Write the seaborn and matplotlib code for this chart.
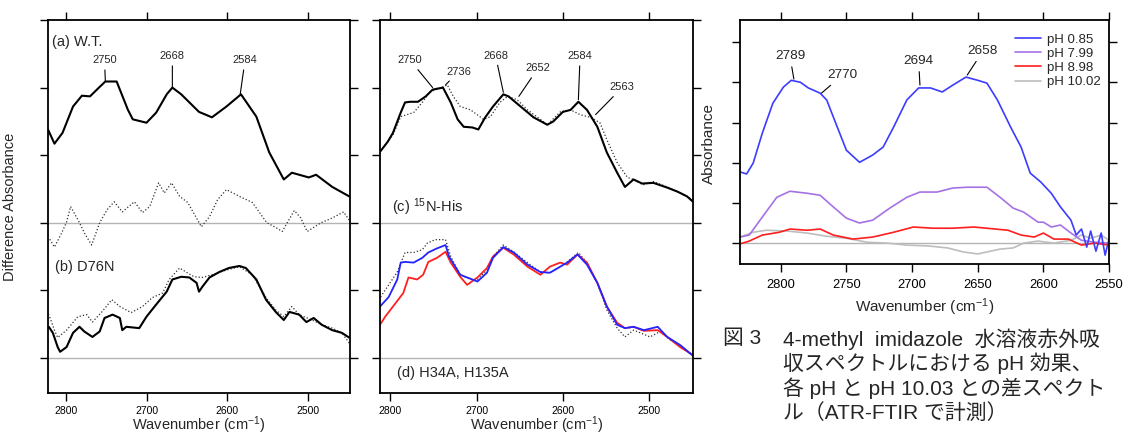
import matplotlib
matplotlib.use('Agg')
import matplotlib.pyplot as plt
import seaborn as sns

# ---- left panel: (a) W.T. and (b) D76N ----
a_solid_wn = [2822, 2814, 2804, 2791, 2780, 2770, 2758, 2751, 2737, 2723, 2717, 2700, 2688, 2675,
              2668, 2657, 2635, 2619, 2601, 2583, 2564, 2548, 2530, 2520, 2499, 2490, 2470, 2449]
a_solid = [3.38, 3.17, 3.33, 3.72, 3.88, 3.87, 4.01, 4.09, 4.09, 3.67, 3.53, 3.48, 3.63, 3.90,
           4.00, 3.90, 3.64, 3.56, 3.72, 3.90, 3.57, 3.04, 2.64, 2.74, 2.67, 2.71, 2.53, 2.39]

a_dot_wn = [2821, 2814, 2805, 2799, 2794, 2783, 2777, 2768, 2758, 2749, 2740, 2730, 2715, 2705,
            2696, 2685, 2678, 2669, 2659, 2649, 2632, 2622, 2612, 2601, 2585, 2569, 2551, 2540,
            2532, 2517, 2509, 2501, 2484, 2470, 2456, 2449]
a_dot = [1.78, 1.64, 1.85, 2.01, 2.24, 2.00, 1.85, 1.67, 2.00, 2.19, 2.31, 2.16, 2.31, 2.15,
         2.24, 2.59, 2.44, 2.59, 2.39, 2.30, 1.94, 2.09, 2.34, 2.49, 2.39, 2.30, 2.00, 1.93,
         1.87, 2.18, 2.07, 1.87, 2.00, 2.07, 2.16, 2.04]

b_solid_wn = [2821, 2816, 2810, 2807, 2799, 2791, 2783, 2777, 2767, 2758, 2752, 2742, 2733, 2730,
              2725, 2709, 2700, 2688, 2675, 2668, 2657, 2647, 2638, 2635, 2631, 2622, 2610, 2598,
              2585, 2577, 2564, 2552, 2540, 2530, 2523, 2511, 2502, 2493, 2483, 2470, 2458, 2449]
b_solid = [0.46, 0.37, 0.16, 0.09, 0.16, 0.37, 0.46, 0.39, 0.31, 0.39, 0.59, 0.64, 0.59, 0.41,
           0.46, 0.44, 0.61, 0.79, 0.98, 1.16, 1.20, 1.19, 1.11, 0.98, 1.05, 1.19, 1.27, 1.33,
           1.36, 1.33, 1.16, 0.86, 0.68, 0.56, 0.68, 0.64, 0.53, 0.59, 0.49, 0.41, 0.37, 0.30]

b_dot_wn = [2821, 2814, 2810, 2799, 2785, 2774, 2767, 2756, 2743, 2733, 2719, 2705, 2693, 2680,
            2672, 2659, 2651, 2641, 2631, 2619, 2601, 2585, 2569, 2552, 2540, 2530, 2520, 2511,
            2495, 2483, 2470, 2458, 2449]
b_dot = [0.64, 0.41, 0.30, 0.41, 0.61, 0.64, 0.53, 0.67, 0.86, 0.76, 0.67, 0.76, 0.89, 0.96,
         1.16, 1.33, 1.27, 1.20, 1.19, 1.23, 1.30, 1.35, 1.23, 0.89, 0.71, 0.61, 0.76, 0.64,
         0.56, 0.49, 0.44, 0.37, 0.22]

# ---- middle panel: (c) 15N-His and (d) H34A, H135A ----
c_solid_wn = [2812, 2803, 2797, 2788, 2783, 2777, 2768, 2759, 2751, 2739, 2730, 2722, 2715, 2705,
              2698, 2690, 2681, 2669, 2663, 2649, 2634, 2618, 2611, 2600, 2591, 2582, 2572, 2560,
              2549, 2537, 2528, 2518, 2508, 2495, 2479, 2467, 2456, 2449]
c_solid = [3.05, 3.20, 3.33, 3.63, 3.78, 3.79, 3.79, 3.87, 3.97, 4.00, 3.78, 3.53, 3.42, 3.41,
           3.38, 3.56, 3.72, 3.90, 3.87, 3.72, 3.56, 3.45, 3.50, 3.64, 3.67, 3.79, 3.67, 3.42,
           3.04, 2.74, 2.53, 2.64, 2.58, 2.59, 2.52, 2.46, 2.39, 2.31]

c_dot_wn = [2812, 2797, 2788, 2773, 2763, 2754, 2742, 2734, 2727, 2719, 2707, 2692, 2684, 2673,
            2664, 2653, 2641, 2626, 2618, 2603, 2591, 2580, 2568, 2557, 2549, 2537, 2525, 2518,
            2507, 2495, 2479, 2464, 2449]
c_dot = [3.05, 3.30, 3.57, 3.63, 3.78, 3.94, 3.99, 4.04, 3.87, 3.72, 3.67, 3.53, 3.57, 3.78,
         3.87, 3.82, 3.67, 3.53, 3.45, 3.64, 3.67, 3.60, 3.56, 3.48, 3.23, 2.89, 2.67, 2.64,
         2.56, 2.61, 2.53, 2.44, 2.34]

d_dot_wn = [2812, 2802, 2792, 2783, 2773, 2763, 2757, 2748, 2736, 2730, 2719, 2707, 2699, 2688,
            2681, 2669, 2657, 2641, 2626, 2615, 2603, 2595, 2582, 2572, 2560, 2549, 2537, 2528,
            2518, 2510, 2499, 2487, 2476, 2464, 2449]
d_dot = [0.89, 1.08, 1.27, 1.56, 1.56, 1.60, 1.70, 1.75, 1.75, 1.50, 1.23, 1.16, 1.16, 1.30,
         1.50, 1.67, 1.57, 1.41, 1.27, 1.26, 1.35, 1.42, 1.56, 1.41, 1.11, 0.71, 0.44, 0.31,
         0.41, 0.37, 0.31, 0.39, 0.27, 0.19, 0.04]

d_blue_wn = [2812, 2802, 2792, 2788, 2783, 2773, 2763, 2756, 2746, 2736, 2732, 2719, 2707, 2699,
             2688, 2681, 2669, 2657, 2641, 2626, 2615, 2603, 2595, 2583, 2572, 2560, 2549, 2537,
             2528, 2518, 2506, 2490, 2479, 2464, 2449]
d_blue = [0.76, 0.90, 1.16, 1.41, 1.42, 1.41, 1.48, 1.56, 1.62, 1.67, 1.50, 1.23, 1.17, 1.13,
          1.26, 1.48, 1.64, 1.56, 1.38, 1.27, 1.26, 1.35, 1.41, 1.53, 1.38, 1.11, 0.76, 0.49,
          0.44, 0.46, 0.41, 0.46, 0.31, 0.19, 0.03]

d_red_wn = [2812, 2806, 2797, 2785, 2779, 2769, 2762, 2756, 2746, 2736, 2730, 2719, 2711, 2699,
            2688, 2681, 2669, 2657, 2641, 2626, 2615, 2603, 2595, 2583, 2572, 2560, 2549, 2537,
            2528, 2518, 2506, 2490, 2479, 2464, 2449]
d_red = [0.49, 0.61, 0.76, 0.96, 1.19, 1.16, 1.23, 1.42, 1.48, 1.57, 1.41, 1.20, 1.08, 1.19,
         1.33, 1.50, 1.63, 1.53, 1.35, 1.23, 1.35, 1.41, 1.38, 1.53, 1.41, 1.11, 0.76, 0.52,
         0.44, 0.46, 0.40, 0.41, 0.31, 0.16, 0.04]

# ---- right panel: 4-methyl imidazole pH series ----
ph_labels = ['pH 0.85', 'pH 7.99', 'pH 8.98', 'pH 10.02']

ph085_wn = [2831, 2826, 2821, 2814, 2806, 2798, 2792, 2785, 2779, 2770, 2765, 2757, 2750, 2740,
            2730, 2722, 2714, 2704, 2695, 2686, 2677, 2669, 2659, 2650, 2643, 2635, 2625, 2617,
            2610, 2602, 2594, 2587, 2579, 2575, 2571, 2567, 2564, 2560, 2556, 2553, 2550]
ph085 = [1.77, 1.72, 1.99, 2.74, 3.48, 3.88, 4.05, 4.00, 3.86, 3.73, 3.56, 2.89, 2.31, 2.01,
         2.19, 2.39, 2.89, 3.56, 3.86, 3.86, 3.76, 3.93, 4.13, 4.05, 3.98, 3.56, 2.89, 2.39,
         1.74, 1.52, 1.24, 0.90, 0.57, 0.20, 0.35, -0.10, 0.30, -0.20, 0.25, -0.30, 0.10]

ph799_wn = [2831, 2824, 2814, 2803, 2793, 2780, 2770, 2760, 2750, 2740, 2730, 2717, 2704, 2694,
            2681, 2669, 2658, 2643, 2633, 2623, 2615, 2604, 2600, 2594, 2587, 2579, 2571, 2561, 2550]
ph799 = [0.15, 0.20, 0.65, 1.14, 1.29, 1.24, 1.19, 0.90, 0.62, 0.50, 0.57, 0.87, 1.14, 1.27,
         1.27, 1.37, 1.39, 1.39, 1.14, 0.87, 0.77, 0.52, 0.52, 0.40, 0.45, 0.25, 0.07, 0.02, 0.00]

ph898_wn = [2831, 2824, 2814, 2801, 2793, 2780, 2770, 2760, 2745, 2730, 2714, 2699, 2684, 2669,
            2653, 2643, 2627, 2617, 2607, 2600, 2592, 2581, 2571, 2561, 2550]
ph898 = [-0.02, 0.05, 0.20, 0.27, 0.35, 0.32, 0.35, 0.20, 0.10, 0.15, 0.27, 0.40, 0.37, 0.37,
         0.40, 0.37, 0.32, 0.20, 0.15, 0.25, 0.10, 0.10, -0.05, 0.00, -0.05]

ph1002_wn = [2831, 2821, 2811, 2795, 2780, 2765, 2750, 2734, 2719, 2704, 2688, 2673, 2661, 2650,
             2643, 2633, 2623, 2615, 2604, 2592, 2579, 2571, 2564, 2556, 2550]
ph1002 = [0.15, 0.27, 0.32, 0.30, 0.25, 0.17, 0.12, 0.02, 0.00, -0.05, -0.07, -0.12, -0.22, -0.27,
          -0.22, -0.15, -0.12, 0.00, 0.05, 0.00, 0.07, 0.20, 0.12, 0.20, 0.07]

sns.set_style('ticks')
plt.rcParams['font.family'] = ['Liberation Sans', 'Noto Sans CJK JP']
plt.rcParams['mathtext.default'] = 'regular'

fig = plt.figure(figsize=(11.24, 4.36), dpi=100)
ax1 = fig.add_axes([0.0427, 0.0986, 0.2687, 0.8555])
ax2 = fig.add_axes([0.3381, 0.0986, 0.2785, 0.8555])
ax3 = fig.add_axes([0.6584, 0.3945, 0.3283, 0.5596])

base_gray = '#b4b4b4'
dot_kw = dict(color='#303030', lw=0.9, linestyle=':')

# left panel
for ax in (ax1, ax2):
    ax.axhline(0, color=base_gray, lw=1.0, zorder=1)
    ax.axhline(2, color=base_gray, lw=1.0, zorder=1)
sns.lineplot(x=a_dot_wn, y=a_dot, ax=ax1, **dot_kw)
sns.lineplot(x=a_solid_wn, y=a_solid, ax=ax1, color='black', lw=1.5)
sns.lineplot(x=b_dot_wn, y=b_dot, ax=ax1, **dot_kw)
sns.lineplot(x=b_solid_wn, y=b_solid, ax=ax1, color='black', lw=1.5)

# middle panel
sns.lineplot(x=c_dot_wn, y=c_dot, ax=ax2, **dot_kw)
sns.lineplot(x=c_solid_wn, y=c_solid, ax=ax2, color='black', lw=1.5)
sns.lineplot(x=d_dot_wn, y=d_dot, ax=ax2, **dot_kw)
sns.lineplot(x=d_red_wn, y=d_red, ax=ax2, color='#ff2020', lw=1.3)
sns.lineplot(x=d_blue_wn, y=d_blue, ax=ax2, color='#2323ff', lw=1.3)

# right panel
ax3.axhline(0, color=base_gray, lw=1.0, zorder=1)
ph_colors = ['#3c3cff', '#a572e6', '#ff1e1e', '#bdbdbd']
ph_series = [(ph085_wn, ph085), (ph799_wn, ph799), (ph898_wn, ph898), (ph1002_wn, ph1002)]
handles = [None] * 4
for i in [3, 1, 2, 0]:
    wn, val = ph_series[i]
    sns.lineplot(x=wn, y=val, ax=ax3, color=ph_colors[i], lw=1.2)
    handles[i] = ax3.get_lines()[-1]
ax3.legend(handles, ph_labels, loc='upper left', bbox_to_anchor=(0.745, 0.945), frameon=False,
           fontsize=9.5, handlelength=2.0, handletextpad=0.4, labelspacing=0.15,
           borderpad=0, borderaxespad=0)

# axes styling
for ax, xl in ((ax1, (2822, 2448)), (ax2, (2812, 2449))):
    ax.set_xlim(*xl)
    ax.set_ylim(-0.52, 5.0)
    ax.set_xticks([2800, 2700, 2600, 2500])
    ax.set_xticklabels(['2800', '2700', '2600', '2500'], fontsize=7.5)
    ax.set_yticks([0, 1, 2, 3, 4, 5])
    ax.set_yticklabels([])
ax3.set_xlim(2831, 2550)
ax3.set_ylim(-0.52, 5.55)
ax3.set_xticks([2800, 2750, 2700, 2650, 2600, 2550])
ax3.set_xticklabels(['2800', '2750', '2700', '2650', '2600', '2550'], fontsize=9.3)
ax3.set_yticks([0, 1, 2, 3, 4, 5])
ax3.set_yticklabels([])

for ax in (ax1, ax2, ax3):
    for s in ax.spines.values():
        s.set_visible(True)
        s.set_linewidth(1.3)
        s.set_color('black')
    ax.tick_params(direction='out', length=6, width=1.0, top=True, right=True, pad=4.5,
                   colors='black')
for ax in (ax1, ax2):
    ax.tick_params(axis='x', pad=3)
    ax.set_xlabel('Wavenumber (cm$^{-1}$)', fontsize=10.5, labelpad=-1)
ax3.set_xlabel('Wavenumber (cm$^{-1}$)', fontsize=11, labelpad=4)

ax1.set_ylabel('Difference Absorbance', fontsize=10.5, labelpad=12)
fig.text(709 / 1124, 1 - 143 / 436, 'Absorbance', rotation=90, fontsize=11,
         ha='center', va='center')

# peak labels
arrow = dict(arrowstyle='-', lw=0.8, color='black', shrinkA=1, shrinkB=0)
peaks_a = [('2750', (2751, 4.10), (2752, 4.33)),
           ('2668', (2668, 4.00), (2668, 4.39)),
           ('2584', (2584, 3.90), (2578, 4.33))]
peaks_c = [('2750', (2751, 4.00), (2777, 4.33)),
           ('2736', (2736, 4.04), (2721, 4.16)),
           ('2668', (2669, 3.93), (2678, 4.40)),
           ('2652', (2651, 3.87), (2629, 4.21)),
           ('2584', (2582, 3.82), (2580, 4.39)),
           ('2563', (2562, 3.60), (2531, 3.93))]
peaks_ph = [('2789', (2790, 4.08), (2793, 4.50)),
            ('2770', (2769, 3.73), (2753, 4.03)),
            ('2694', (2694, 3.93), (2695, 4.38)),
            ('2658', (2658, 4.18), (2646, 4.63))]
for ax, peaks, fs in ((ax1, peaks_a, 8), (ax2, peaks_c, 8), (ax3, peaks_ph, 9.7)):
    for txt, xy, xyt in peaks:
        ax.annotate(txt, xy=xy, xytext=xyt, ha='center', va='bottom', fontsize=fs,
                    arrowprops=arrow)

# panel labels
ax1.text(0.013, 0.941, '(a) W.T.', transform=ax1.transAxes, fontsize=10.5, va='center')
ax1.text(0.023, 0.338, '(b) D76N', transform=ax1.transAxes, fontsize=10.5, va='center')
ax2.text(0.038, 0.499, '(c) $^{15}$N-His', transform=ax2.transAxes, fontsize=10.5, va='center')
ax2.text(0.054, 0.054, '(d) H34A, H135A', transform=ax2.transAxes, fontsize=10.5, va='center')

# caption
cap_fs = 15
fig.text(723 / 1124, 1 - 339 / 436, '図 3', fontsize=cap_fs, va='center')
caption = ['4-methyl  imidazole  水溶液赤外吸',
           '収スペクトルにおける pH 効果、',
           '各 pH と pH 10.03 との差スペクト',
           'ル（ATR-FTIR で計測）']
for i, line in enumerate(caption):
    fig.text(783 / 1124, 1 - (339 + 24.5 * i) / 436, line, fontsize=cap_fs, va='center')

fig.savefig('out.png', dpi=100)
